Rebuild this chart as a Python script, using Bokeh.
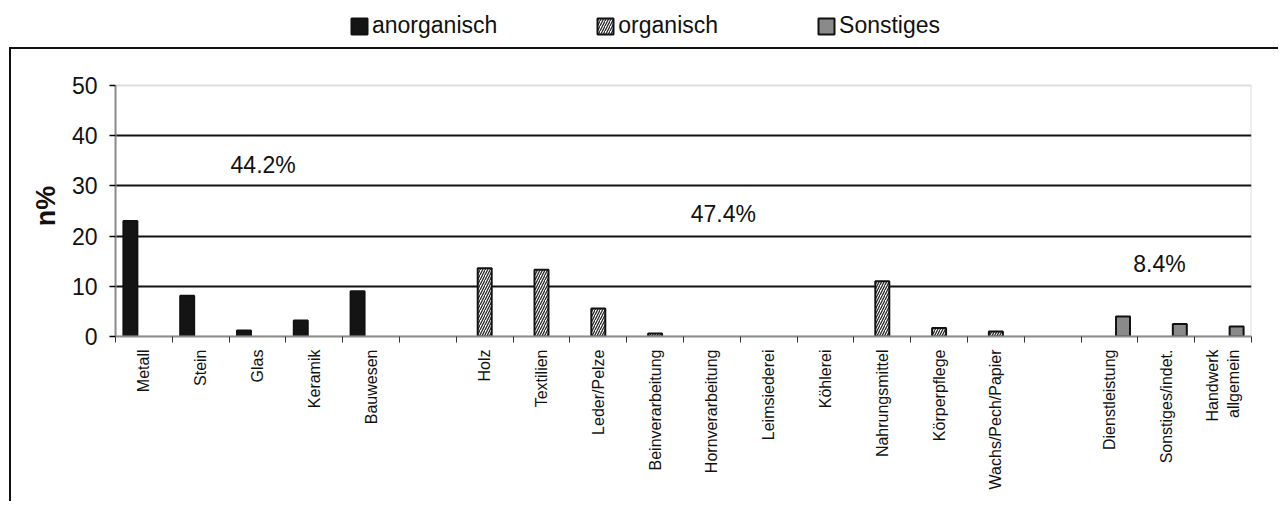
import math
from bokeh.plotting import figure
from bokeh.models import (ColumnDataSource, Range1d, FixedTicker, Legend, LegendItem,
                          Label, BoxAnnotation, InlineStyleSheet)
from bokeh.embed import file_html
from bokeh.resources import INLINE

# ---------------- data ----------------
categories = ["Metall", "Stein", "Glas", "Keramik", "Bauwesen", "",
              "Holz", "Textilien", "Leder/Pelze", "Beinverarbeitung", "Hornverarbeitung",
              "Leimsiederei", "Köhlerei", "Nahrungsmittel", "Körperpflege", "Wachs/Pech/Papier",
              " ", "Dienstleistung", "Sonstiges/indet.", "Handwerk\nallgemein"]
anorganisch = [23.0, 8.1, 1.2, 3.2, 9.0, 0,
               0, 0, 0, 0, 0, 0, 0, 0, 0, 0,
               0, 0, 0, 0]
organisch = [0, 0, 0, 0, 0, 0,
             13.6, 13.3, 5.6, 0.6, 0, 0, 0, 11.0, 1.7, 1.0,
             0, 0, 0, 0]
sonstiges = [0, 0, 0, 0, 0, 0,
             0, 0, 0, 0, 0, 0, 0, 0, 0, 0,
             0, 4.0, 2.5, 2.0]
series_names = ["anorganisch", "organisch", "Sonstiges"]
group_shares = ["44.2%", "47.4%", "8.4%"]
y_ticks = [0, 10, 20, 30, 40, 50]
y_title = "n%"

FONT = "Liberation Sans"
Y_MAX = 50

# the plot frame reaches to the top of the figure so that the legend (drawn inside it)
# sits above the 0..50 value box
p = figure(width=1270, height=493, x_range=Range1d(0, len(categories)), y_range=Range1d(0, 66.93),
           output_backend="svg", toolbar_location=None,
           min_border_left=115, min_border_right=19, min_border_top=0, min_border_bottom=157,
           background_fill_color="white", border_fill_color="white")
p.outline_line_color = None

# grey box around the value area 0..50
p.add_layout(BoxAnnotation(left=0, right=len(categories), bottom=0, top=Y_MAX,
                           fill_alpha=0, line_color="#8c8c8c", line_width=2))

# grid
p.xgrid.visible = False
p.ygrid.ticker = FixedTicker(ticks=y_ticks[1:-1])
p.ygrid.grid_line_color = "#111111"
p.ygrid.grid_line_width = 2

# y axis
p.yaxis.ticker = FixedTicker(ticks=y_ticks)
p.yaxis.bounds = (0, Y_MAX)
p.yaxis.axis_line_color = "#8c8c8c"
p.yaxis.axis_line_width = 2
p.yaxis.major_tick_line_color = "black"
p.yaxis.major_tick_line_width = 1.5
p.yaxis.major_tick_out = 6
p.yaxis.major_tick_in = 0
p.yaxis.minor_tick_line_color = None
p.yaxis.major_label_text_font = FONT
p.yaxis.major_label_text_font_size = "23px"
p.yaxis.major_label_text_color = "#111111"
p.yaxis.major_label_standoff = 12
# trailing no-break spaces centre the visible title lower, beside the 0..50 box
p.yaxis.axis_label = y_title + "\u00a0" * 10
p.yaxis.axis_label_text_font = FONT
p.yaxis.axis_label_text_font_style = "bold"
p.yaxis.axis_label_text_font_size = "27px"
p.yaxis.axis_label_text_color = "#111111"
p.yaxis.axis_label_standoff = 8

# x axis: labels at slot centres, ticks at slot boundaries
centres = [i + 0.5 for i in range(len(categories))]
bounds = list(range(len(categories) + 1))
p.xaxis.ticker = FixedTicker(ticks=centres, minor_ticks=bounds)
p.xaxis.major_label_overrides = {c: lab for c, lab in zip(centres, categories)}
p.xaxis.major_label_orientation = math.pi / 2
p.xaxis.major_label_text_font = FONT
p.xaxis.major_label_text_font_size = "16px"
p.xaxis.major_label_text_color = "#111111"
p.xaxis.major_label_standoff = 7
p.xaxis.major_tick_line_color = None
p.xaxis.major_tick_out = 0
p.xaxis.major_tick_in = 0
p.xaxis.minor_tick_line_color = "#333333"
p.xaxis.minor_tick_line_width = 1
p.xaxis.minor_tick_out = 6
p.xaxis.minor_tick_in = 0
p.xaxis.axis_line_color = "#8c8c8c"
p.xaxis.axis_line_width = 2

# bars
bar_w = 0.246
offsets = [-0.238, 0.0, 0.238]
styles = [
    dict(fill_color="#141414"),
    dict(fill_color="white", hatch_pattern="/", hatch_color="#2a2a2a", hatch_scale=5, hatch_weight=1.3),
    dict(fill_color="#8a8a8a"),
]
renderers = []
for vals, off, st in zip([anorganisch, organisch, sonstiges], offsets, styles):
    xs = [c + off for c, v in zip(centres, vals) if v > 0]
    ys = [v for v in vals if v > 0]
    src = ColumnDataSource(dict(x=xs, top=ys))
    r = p.vbar(x="x", top="top", width=bar_w, bottom=0, source=src,
               line_color="#111111", line_width=2, **st)
    renderers.append(r)

# legend at the top
legend = Legend(items=[LegendItem(label=n, renderers=[r]) for n, r in zip(series_names, renderers)],
                orientation="horizontal", location=(234, 297),
                glyph_width=20, glyph_height=20, label_standoff=3, spacing=98,
                padding=0, margin=0, border_line_color=None, background_fill_alpha=0,
                label_text_font=FONT, label_text_font_size="23px", label_text_color="#111111",
                label_height=20)
p.add_layout(legend)

# group share annotations
share_pos = [(2.6, 34.1), (10.7, 24.4), (18.38, 14.5)]
for txt, (sx, sy) in zip(group_shares, share_pos):
    p.add_layout(Label(x=sx, y=sy, text=txt, text_align="center", text_baseline="alphabetic",
                       text_font=FONT, text_font_size="23px", text_color="#111111"))

# outer frame (left and top lines of the surrounding chart box)
p.stylesheets = [InlineStyleSheet(css="""
:host { position: relative; }
:host::after { content: ''; position: absolute; left: 9px; top: 47px; right: -8px; bottom: -8px;
  border-left: 2px solid #111; border-top: 2px solid #111; pointer-events: none; }
""")]

open("out.html", "w").write(file_html(p, INLINE))
